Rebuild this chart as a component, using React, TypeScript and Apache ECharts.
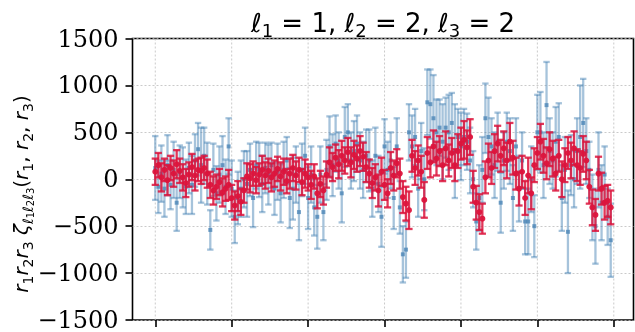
import React, { useEffect, useRef } from 'react';
import * as echarts from 'echarts';

const xTicks = [0, 25, 50, 75, 100, 125, 150];

const blueMean = [
  120, -80, 60, -100, 150, -60, 100, -250, 80, 20,
  -80, 120, -60, 200, 320, 150, 250, 60, -540, 100,
  -150, 50, 150, -80, 350, -100, -400, -200, -100, 0,
  -50, 100, -200, 150, 100, -50, 120, 50, 150, -100,
  80, -150, 100, 200, -200, -100, 50, -350, 100, 250,
  -200, 50, -300, -400, 50, -350, 100, 350, 150, 380,
  200, -150, 450, 500, 200, 300, 380, 200, 100, 250,
  200, -100, 250, -50, -400, 350, 100, 200, -200, 350,
  -300, -800, -750, 500, 350, 450, -100, 300, 0, 820,
  800, 650, 500, 550, 400, 550, 500, 600, 300, 450,
  350, 450, 400, 200, 0, -450, -200, 100, 650, 450,
  350, 150, 400, -250, 200, 400, 300, -200, 350, -100,
  200, -450, -450, 0, -500, 500, 500, 150, 790, 300,
  200, 400, 450, -200, 100, -560, 150, 0, 300, 450,
  600, 300, 100, -300, -500, 100, -250, 50, -400, -650,
];
const blueErr = [
  340, 280, 300, 300, 320, 260, 300, 300, 280, 320,
  290, 270, 310, 280, 280, 400, 300, 330, 210, 280,
  290, 300, 310, 290, 300, 300, 280, 280, 300, 300,
  350, 280, 310, 250, 290, 300, 270, 320, 240, 280,
  300, 310, 300, 250, 320, 330, 300, 300, 280, 300,
  330, 300, 300, 340, 300, 300, 320, 320, 330, 300,
  300, 310, 320, 300, 300, 320, 300, 300, 300, 280,
  330, 300, 300, 300, 320, 290, 300, 300, 330, 300,
  280, 300, 300, 300, 330, 300, 300, 300, 330, 350,
  370, 460, 350, 300, 400, 320, 400, 320, 500, 300,
  360, 300, 300, 350, 300, 300, 350, 350, 370, 420,
  300, 350, 310, 320, 300, 310, 350, 350, 300, 350,
  300, 350, 350, 350, 330, 400, 430, 350, 460, 350,
  300, 370, 360, 350, 350, 440, 320, 300, 350, 550,
  470, 350, 300, 350, 400, 400, 400, 300, 300, 390,
];
const redMean = [
  80, 150, 20, 100, -10, 120, 60, 160, 90, 20,
  -40, 50, 130, 40, 100, 90, 120, 60, -60, -120,
  -80, -30, -140, -100, -60, -200, -280, -180, -240, -120,
  30, 10, 60, -10, 50, 100, 40, 90, 20, 60,
  110, 30, 80, -20, 60, 120, 40, 100, -30, 60,
  20, -60, 30, -150, -50, -120, 50, 180, 130, 230,
  160, 250, 200, 290, 180, 260, 220, 300, 240, 130,
  60, -40, 20, -120, 80, -60, -150, 120, 40, 170,
  60, -190, -260, -330, 250, 120, 200, 80, -220, 280,
  180, 350, 220, 300, 150, 330, 200, 280, 150, 300,
  380, 420, 340, 450, -80, -250, -350, -420, 20, 200,
  120, 300, 380, 250, 330, 200, 400, 230, 60, -100,
  80, -200, 40, -150, 150, 280, 400, 250, 170, 320,
  220, 60, 250, 0, 150, 280, 200, 330, 150, 120,
  270, 200, -80, -300, -380, 60, -100, -250, -230, -300,
];
const redErr = [
  140, 130, 150, 120, 160, 130, 140, 150, 130, 140,
  150, 130, 140, 160, 120, 140, 130, 150, 140, 150,
  130, 140, 150, 130, 160, 140, 150, 160, 140, 130,
  140, 150, 130, 140, 120, 150, 140, 130, 150, 140,
  130, 150, 140, 130, 160, 140, 150, 130, 140, 150,
  140, 150, 130, 160, 140, 150, 140, 160, 150, 140,
  150, 160, 140, 150, 160, 150, 140, 160, 150, 160,
  150, 160, 140, 170, 150, 160, 150, 170, 160, 150,
  160, 170, 180, 200, 170, 180, 160, 170, 190, 170,
  160, 170, 180, 160, 170, 180, 170, 160, 170, 180,
  170, 200, 180, 190, 170, 180, 190, 160, 170, 180,
  170, 180, 190, 170, 180, 190, 200, 180, 170, 180,
  170, 180, 190, 170, 180, 170, 190, 180, 170, 180,
  190, 180, 170, 190, 180, 170, 190, 180, 170, 180,
  190, 200, 180, 190, 170, 180, 170, 180, 170, 180,
];

const Y_MIN = -1500;
const Y_MAX = 1500;

function errorSeries(
  name: string,
  mean: number[],
  err: number[],
  lineColor: string,
  markerColor: string,
  capHalf: number,
  marker: 'rect' | 'circle',
  z: number,
  lw: number
) {
  return {
    type: 'custom',
    name,
    z,
    data: mean.map((m, i) => [i, m, err[i]]),
    encode: { x: 0, y: 1 },
    renderItem: (params: any, api: any) => {
      const x = api.value(0);
      const m = api.value(1);
      const e = api.value(2);
      const top = api.coord([x, m + e]);
      const bot = api.coord([x, m - e]);
      const c = api.coord([x, m]);
      const ls = { stroke: lineColor, lineWidth: lw };
      const children: any[] = [
        { type: 'line', shape: { x1: top[0], y1: top[1], x2: bot[0], y2: bot[1] }, style: ls },
        { type: 'line', shape: { x1: top[0] - capHalf, y1: top[1], x2: top[0] + capHalf, y2: top[1] }, style: ls },
        { type: 'line', shape: { x1: bot[0] - capHalf, y1: bot[1], x2: bot[0] + capHalf, y2: bot[1] }, style: ls },
      ];
      if (marker === 'rect') {
        children.push({ type: 'rect', shape: { x: c[0] - 2, y: c[1] - 2, width: 4, height: 4 }, style: { fill: markerColor } });
      } else {
        children.push({ type: 'circle', shape: { cx: c[0], cy: c[1], r: 3 }, style: { fill: markerColor } });
      }
      return { type: 'group', children };
    },
  };
}

export default function App() {
  const ref = useRef<HTMLDivElement>(null);
  useEffect(() => {
    if (!ref.current) return;
    const chart = echarts.init(ref.current, undefined, { renderer: 'svg' });
    const fmt = (v: number) => (v < 0 ? '{m|\u2212}{d|' + Math.abs(v) + '}' : '{d|' + v + '}');
    const titleRich = {
      n: { fontFamily: 'DejaVu Sans', fontSize: 26, color: '#000', lineHeight: 32 },
      s: { fontFamily: 'DejaVu Sans', fontSize: 18, color: '#000', lineHeight: 21, verticalAlign: 'bottom' },
    };
    const nameRich = {
      n: { fontFamily: 'DejaVu Sans', fontSize: 20, color: '#000', lineHeight: 28 },
      i: { fontFamily: 'DejaVu Sans', fontStyle: 'italic', fontSize: 20, color: '#000', lineHeight: 28 },
      s: { fontFamily: 'DejaVu Sans', fontSize: 14, color: '#000', lineHeight: 18, verticalAlign: 'bottom' },
      si: { fontFamily: 'DejaVu Sans', fontStyle: 'italic', fontSize: 14, color: '#000', lineHeight: 18, verticalAlign: 'bottom' },
      ss: { fontFamily: 'DejaVu Sans', fontSize: 10, color: '#000', lineHeight: 12, verticalAlign: 'bottom' },
    };
    const gridStyle = { stroke: '#bdbdbd', lineWidth: 0.8, lineDash: [2, 2] };
    chart.setOption({
      animation: false,
      grid: {
        left: 132.5,
        right: 1.5,
        top: 38.5,
        bottom: 11.5,
        show: true,
        borderColor: '#000',
        borderWidth: 1.6,
        containLabel: false,
      },
      xAxis: {
        type: 'value',
        min: -7.45,
        max: 156.45,
        axisLine: { show: false, onZero: false },
        axisTick: {
          show: true,
          inside: false,
          length: 7,
          customValues: xTicks,
          lineStyle: { color: '#000', width: 1.6 },
        },
        axisLabel: { show: false, customValues: xTicks },
        splitLine: { show: false },
      },
      yAxis: {
        type: 'value',
        min: Y_MIN,
        max: Y_MAX,
        interval: 500,
        axisLine: { show: false, onZero: false },
        axisTick: { show: true, inside: false, length: 7, lineStyle: { color: '#000', width: 1.6 } },
        axisLabel: {
          formatter: fmt,
          margin: 14,
          color: '#000',
          rich: {
            m: { fontFamily: 'DejaVu Serif', fontSize: 24, color: '#000', width: 20, align: 'left' },
            d: { fontFamily: 'DejaVu Serif', fontSize: 24, color: '#000' },
          },
        },
        splitLine: { show: true, lineStyle: { color: '#bdbdbd', type: [2, 2], width: 0.8 } },
      },
      graphic: [
        {
          type: 'text',
          x: 383,
          y: 7,
          style: {
            text: '{n|\u2113}{s|1}{n| = 1, \u2113}{s|2}{n| = 2, \u2113}{s|3}{n| = 2}',
            rich: titleRich,
            align: 'center',
            verticalAlign: 'top',
          },
        },
        {
          type: 'text',
          x: 21,
          y: 194,
          rotation: Math.PI / 2,
          style: {
            text:
              '{i|r}{s|1}{i|r}{s|2}{i|r}{s|3}{n| }{i|\u03b6}{si|\u2113}{ss|1}{si|\u2113}{ss|2}{si|\u2113}{ss|3}{n|(}{i|r}{s|1}{n|, }{i|r}{s|2}{n|, }{i|r}{s|3}{n|)}',
            rich: nameRich,
            align: 'center',
            verticalAlign: 'middle',
          },
        },
      ],
      series: [
        {
          type: 'custom',
          name: 'xgrid',
          z: 1,
          silent: true,
          data: xTicks.map((v) => [v, 0]),
          encode: { x: 0, y: 1 },
          renderItem: (params: any, api: any) => {
            const x = api.value(0);
            const a = api.coord([x, Y_MAX]);
            const b = api.coord([x, Y_MIN]);
            return { type: 'line', shape: { x1: a[0], y1: a[1], x2: b[0], y2: b[1] }, style: gridStyle };
          },
        },
        errorSeries('blue', blueMean, blueErr, 'rgba(70,130,180,0.48)', 'rgba(70,130,180,0.75)', 3.2, 'rect', 2, 2.3),
        errorSeries('red', redMean, redErr, 'rgba(220,20,60,0.85)', 'rgba(220,20,60,0.95)', 3.6, 'circle', 3, 2.3),
      ],
    });
    return () => chart.dispose();
  }, []);
  return <div ref={ref} style={{ position: 'fixed', left: 0, top: 0, width: 635, height: 332 }} />;
}
